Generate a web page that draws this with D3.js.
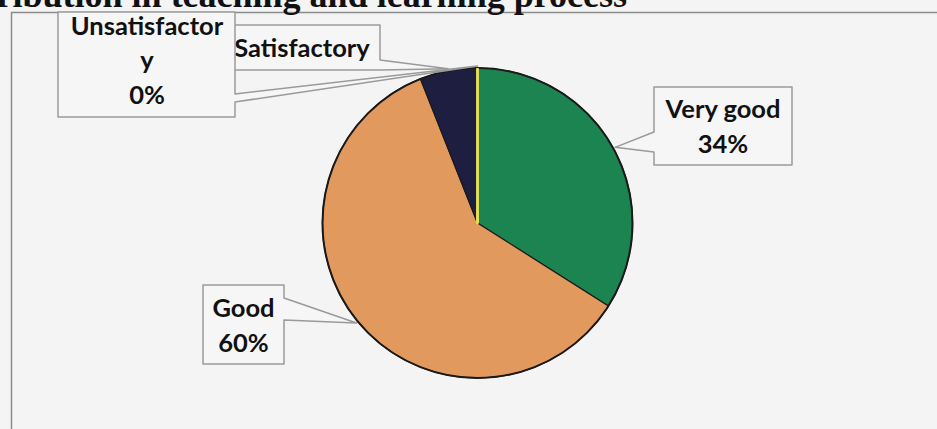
<!DOCTYPE html>
<html>
<head>
<meta charset="utf-8">
<script src="https://cdn.jsdelivr.net/npm/d3@7/dist/d3.min.js"></script>
<style>
  html, body { margin: 0; padding: 0; background: #f4f4f4; overflow: hidden; }
  svg { display: block; }
</style>
</head>
<body>
<svg id="chart" width="937" height="429"></svg>
<script>
// Survey shares, in percent, clockwise from 12 o'clock
const categories = ["Very good", "Good", "Satisfactory", "Unsatisfactory"];
const percentages = [34, 60, 6, 0];
// How each data label is broken into lines
const labelNames = [["Very good"], ["Good"], ["Satisfactory"], ["Unsatisfactor", "y"]];
const showValue = [true, true, false, true];
const sliceColors = ["#1c8450", "#e2995e", "#1e1e40", "#e8e05a"];

const title = "Contribution in teaching and learning process";

const W = 937, H = 429;
const cx = 477.5, cy = 223, r = 155;

// Callout boxes: rectangle, side that carries the pointer, pointer base on that side
const callouts = [
  { x0: 654, y0: 87,  x1: 792, y1: 165, side: "left",  b1: 132, b2: 152, tx: 723, ty: [118, 153] },
  { x0: 203, y0: 285, x1: 284, y1: 364, side: "right", b1: 298, b2: 320, tx: 243.5, ty: [317, 352] },
  { x0: 225, y0: 25,  x1: 380, y1: 70,  side: "right", b1: 60,  b2: 70,  tx: 302, ty: [57] },
  { x0: 58,  y0: 12,  x1: 235, y1: 117, side: "right", b1: 94,  b2: 102, tx: 147, ty: [35, 69, 104] }
];

const svg = d3.select("#chart");

// Chart area frame
svg.append("rect")
  .attr("x", 11.5).attr("y", 12.5)
  .attr("width", 1200).attr("height", 1000)
  .attr("fill", "#f4f4f4")
  .attr("stroke", "#8a8a8a")
  .attr("stroke-width", 1.5);

// Title (mostly above the top of the page)
svg.append("text")
  .attr("x", 627).attr("y", 7)
  .attr("text-anchor", "end")
  .attr("font-family", "'Liberation Serif', 'DejaVu Serif', serif")
  .attr("font-weight", "bold")
  .attr("font-size", 36)
  .attr("fill", "#111")
  .text(title);

const pie = d3.pie().sort(null).value(d => d)(percentages);
const arc = d3.arc().innerRadius(0).outerRadius(r);

const g = svg.append("g").attr("transform", `translate(${cx},${cy})`);
g.selectAll("path.slice")
  .data(pie)
  .join("path")
  .attr("class", "slice")
  .attr("d", arc)
  .attr("fill", (d, i) => sliceColors[i])
  .attr("stroke", (d, i) => d.value === 0 ? sliceColors[i] : "#1a1a1a")
  .attr("stroke-width", (d, i) => d.value === 0 ? 2.5 : 1.2)
  .attr("stroke-linejoin", "round");

// Dark rim around the whole pie
g.append("circle")
  .attr("r", r)
  .attr("fill", "none")
  .attr("stroke", "#1a1a1a")
  .attr("stroke-width", 2);

// Yellow edge of the empty slice drawn on top
g.selectAll("line.zero")
  .data(pie.filter(d => d.value === 0))
  .join("line")
  .attr("class", "zero")
  .attr("x1", 0).attr("y1", 0)
  .attr("x2", d => r * Math.sin(d.startAngle))
  .attr("y2", d => -r * Math.cos(d.startAngle))
  .attr("stroke", d => sliceColors[d.index])
  .attr("stroke-width", 2.5);

// Pointer tip: on the rim at the middle angle of each slice
function tipOf(d) {
  const a = (d.startAngle + d.endAngle) / 2;
  return [cx + (r + 2) * Math.sin(a), cy - (r + 2) * Math.cos(a)];
}

function calloutPath(c, tip) {
  const p = d3.path();
  if (c.side === "left") {
    p.moveTo(c.x0, c.y0); p.lineTo(c.x1, c.y0); p.lineTo(c.x1, c.y1); p.lineTo(c.x0, c.y1);
    p.lineTo(c.x0, c.b2); p.lineTo(tip[0], tip[1]); p.lineTo(c.x0, c.b1); p.closePath();
  } else {
    p.moveTo(c.x0, c.y0); p.lineTo(c.x1, c.y0); p.lineTo(c.x1, c.b1);
    p.lineTo(tip[0], tip[1]); p.lineTo(c.x1, c.b2); p.lineTo(c.x1, c.y1);
    p.lineTo(c.x0, c.y1); p.closePath();
  }
  return p.toString();
}

const labels = svg.append("g");
// Drawn in data order, so the upper-left box overlaps its neighbour
pie.forEach((d, i) => {
  const c = callouts[i];
  const lines = labelNames[i].slice();
  if (showValue[i]) lines.push(`${percentages[i]}%`);
  const grp = labels.append("g");
  grp.append("path")
    .attr("d", calloutPath(c, tipOf(d)))
    .attr("fill", "#f6f6f6")
    .attr("stroke", "#9a9a9a")
    .attr("stroke-width", 1.5)
    .attr("stroke-linejoin", "round");
  grp.selectAll("text")
    .data(lines)
    .join("text")
    .attr("x", c.tx)
    .attr("y", (t, k) => c.ty[k])
    .attr("text-anchor", "middle")
    .attr("font-family", "Lato, 'Open Sans', sans-serif")
    .attr("font-weight", "bold")
    .attr("font-size", 25.5)
    .attr("fill", "#111")
    .text(t => t);
});
</script>
</body>
</html>
